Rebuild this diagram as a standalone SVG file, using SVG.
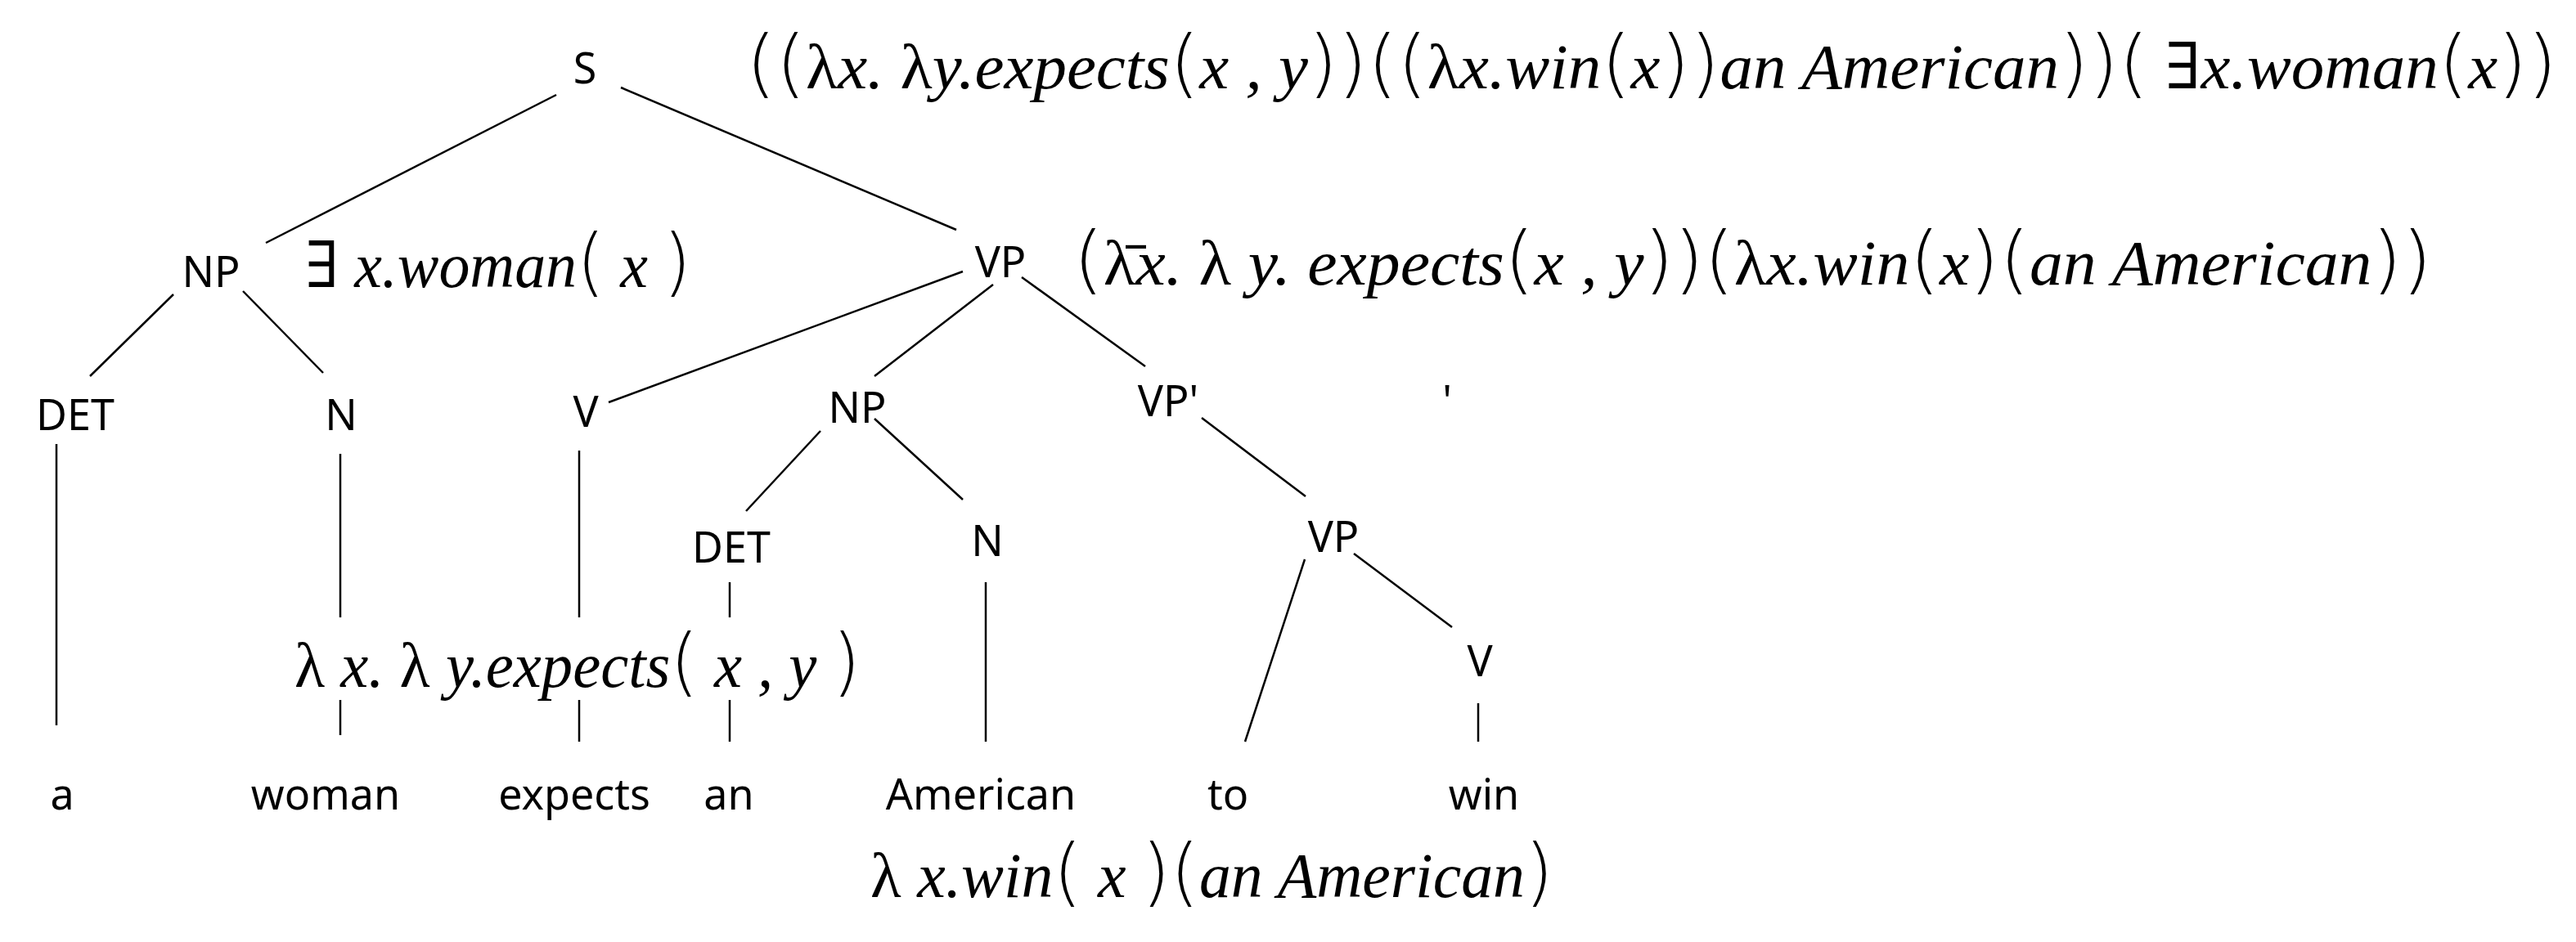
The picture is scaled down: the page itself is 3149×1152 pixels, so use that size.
<svg xmlns="http://www.w3.org/2000/svg" width="3149" height="1152" viewBox="0 0 3149 1152">
<style>
.lbl{font-family:"Noto Sans","Open Sans","Liberation Sans",sans-serif;font-size:52px;fill:#000;text-anchor:middle}
.m{font-family:"Liberation Serif","DejaVu Serif",serif;font-style:italic;font-size:78px;fill:#000}
.p{font-family:"DejaVu Sans","Liberation Sans",sans-serif;font-style:normal;font-weight:200;font-size:90px}
.u{font-style:normal}
.edge{stroke:#000;stroke-width:2.5;fill:none}
</style>
<rect width="3149" height="1152" fill="#fff"/>
<g id="connectors" class="edge">
<line x1="680" y1="116" x2="325" y2="297"/>
<line x1="759" y1="107" x2="1169" y2="281"/>
<line x1="212" y1="360" x2="110" y2="460"/>
<line x1="297" y1="356" x2="395" y2="456"/>
<line x1="69" y1="543" x2="69" y2="887"/>
<line x1="416" y1="555" x2="416" y2="755"/>
<line x1="416" y1="856" x2="416" y2="899"/>
<line x1="708" y1="551" x2="708" y2="755"/>
<line x1="708" y1="856" x2="708" y2="907"/>
<line x1="1177" y1="332" x2="744" y2="492"/>
<line x1="1214" y1="348" x2="1069" y2="460"/>
<line x1="1249" y1="339" x2="1400" y2="448"/>
<line x1="1003" y1="527" x2="912" y2="625"/>
<line x1="1069" y1="512" x2="1177" y2="611"/>
<line x1="892" y1="712" x2="892" y2="755"/>
<line x1="892" y1="856" x2="892" y2="907"/>
<line x1="1205" y1="712" x2="1205" y2="907"/>
<line x1="1469" y1="511" x2="1596" y2="607"/>
<line x1="1595" y1="684" x2="1522" y2="907"/>
<line x1="1655" y1="677" x2="1775" y2="767"/>
<line x1="1807" y1="860" x2="1807" y2="907"/>
</g>
<g id="node-S"><text class="lbl" x="715" y="102">S</text></g>
<g id="node-NP1"><text class="lbl" x="258" y="351">NP</text></g>
<g id="node-VP1"><text class="lbl" x="1223" y="339">VP</text></g>
<g id="node-DET1"><text class="lbl" x="92" y="526">DET</text></g>
<g id="node-N1"><text class="lbl" x="417" y="526">N</text></g>
<g id="node-V1"><text class="lbl" x="716" y="522">V</text></g>
<g id="node-NP2"><text class="lbl" x="1048" y="517">NP</text></g>
<g id="node-VPp"><text class="lbl" x="1428" y="509">VP'</text></g>
<g id="node-tick"><text class="lbl" x="1769" y="509">'</text></g>
<g id="node-DET2"><text class="lbl" x="894" y="688">DET</text></g>
<g id="node-N2"><text class="lbl" x="1207" y="680">N</text></g>
<g id="node-VP2"><text class="lbl" x="1630" y="675">VP</text></g>
<g id="node-V2"><text class="lbl" x="1809" y="827">V</text></g>
<g id="word-a"><text class="lbl" x="76" y="990">a</text></g>
<g id="word-woman"><text class="lbl" x="398" y="990">woman</text></g>
<g id="word-expects"><text class="lbl" x="702" y="990">expects</text></g>
<g id="word-an"><text class="lbl" x="891" y="990">an</text></g>
<g id="word-American"><text class="lbl" x="1199" y="990">American</text></g>
<g id="word-to"><text class="lbl" x="1501" y="990">to</text></g>
<g id="word-win"><text class="lbl" x="1814" y="990">win</text></g>
<g id="sem-S"><text class="m" x="912" y="108" textLength="2214" lengthAdjust="spacingAndGlyphs"><tspan class="p">((</tspan><tspan class="u">λ</tspan>x. <tspan class="u">λ</tspan>y.expects<tspan class="p">(</tspan>x , y<tspan class="p">))((</tspan><tspan class="u">λ</tspan>x.win<tspan class="p">(</tspan>x<tspan class="p">)</tspan><tspan class="p">)</tspan>an American<tspan class="p">))(</tspan> <tspan class="u">∃</tspan>x.woman<tspan class="p">(</tspan>x<tspan class="p">))</tspan></text></g>
<g id="sem-VP"><text class="m" x="1312" y="348" textLength="1661" lengthAdjust="spacingAndGlyphs"><tspan class="p">(</tspan><tspan class="u">λ̄</tspan>x. <tspan class="u">λ</tspan> y. expects<tspan class="p">(</tspan>x , y<tspan class="p">))(</tspan><tspan class="u">λ</tspan>x.win<tspan class="p">(</tspan>x<tspan class="p">)(</tspan>an American<tspan class="p">))</tspan></text></g>
<g id="sem-NP"><text class="m" x="373" y="351" textLength="472" lengthAdjust="spacingAndGlyphs"><tspan class="u">∃</tspan> x.woman<tspan class="p">(</tspan> x <tspan class="p">)</tspan></text></g>
<g id="sem-V"><text class="m" x="360" y="840" textLength="692" lengthAdjust="spacingAndGlyphs"><tspan class="u">λ</tspan> x. <tspan class="u">λ</tspan> y.expects<tspan class="p">(</tspan> x , y <tspan class="p">)</tspan></text></g>
<g id="sem-VPinf"><text class="m" x="1064" y="1097" textLength="835" lengthAdjust="spacingAndGlyphs"><tspan class="u">λ</tspan> x.win<tspan class="p">(</tspan> x <tspan class="p">)(</tspan>an American<tspan class="p">)</tspan></text></g>
</svg>
